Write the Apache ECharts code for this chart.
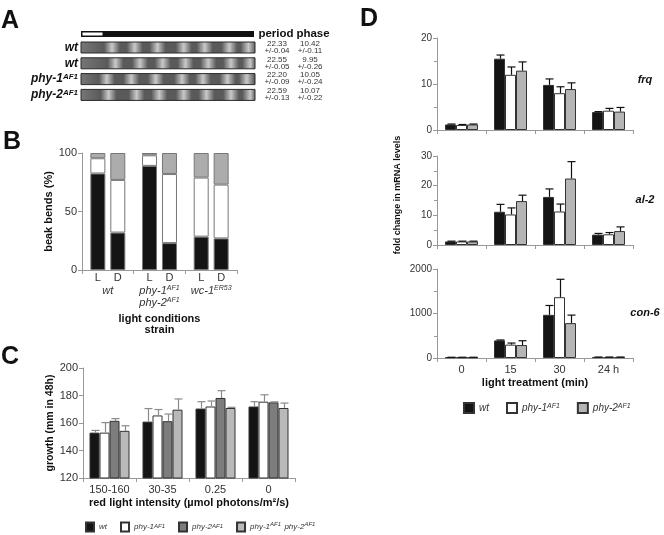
<!DOCTYPE html>
<html lang="en">
<head>
<meta charset="UTF-8">
<title>phy mutants - light responses</title>
<style>
    html, body { margin: 0; padding: 0; background: #fff; }
    #main { width: 664px; height: 535px; }
</style>
</head>
<body>
<div id="main"></div>
<script src="https://cdn.jsdelivr.net/npm/echarts@6/dist/echarts.min.js"></script>
<script>
// ---- panel A: race tubes ----
var tubeNames = ['wt', 'wt', 'phy-1', 'phy-2'];
var tubeSups = ['', '', 'AF1', 'AF1'];
var periods = ['22.33', '22.55', '22.20', '22.59'];
var periodErrs = ['+/-0.04', '+/-0.05', '+/-0.09', '+/-0.13'];
var phases = ['10.42', '9.95', '10.05', '10.07'];
var phaseErrs = ['+/-0.11', '+/-0.26', '+/-0.24', '+/-0.22'];
// conidiation bands, read as fraction of tube length
var tubeBands = [
    [0.18, 0.31, 0.44, 0.59, 0.71, 0.85, 0.96],
    [0.20, 0.34, 0.47, 0.60, 0.73, 0.86, 0.97],
    [0.15, 0.29, 0.43, 0.58, 0.70, 0.84, 0.95],
    [0.16, 0.32, 0.45, 0.59, 0.72, 0.86, 0.97]
];

// ---- panel B: beak bends (%) ----
var bStrains = ['{i|wt}', '{i|phy-1}{s|AF1}\n{i|phy-2}{s|AF1}', '{i|wc-1}{s|ER53}'];
var bBlackL = [82.5, 89, 28.5];
var bWhiteL = [13, 9, 50.5];
var bGrayL = [4.5, 2, 21];
var bBlackD = [32, 23, 27];
var bWhiteD = [45, 59, 46];
var bGrayD = [23, 18, 27];

// ---- panel C: growth (mm in 48h) ----
var cIntensity = ['150-160', '30-35', '0.25', '0'];
var cWt = [153, 161, 170.5, 172];
var cWtErr = [1.6, 9.5, 5, 3.5];
var cPhy1 = [153, 165.5, 172, 175.5];
var cPhy1Err = [7.3, 4.3, 4, 5];
var cPhy2 = [161.6, 161.3, 178.2, 175];
var cPhy2Err = [1.6, 5.2, 5.3, 0.4];
var cPhy12 = [154.3, 169.7, 170.9, 170.9];
var cPhy12Err = [3.7, 7.8, 0.5, 3.6];

// ---- panel D: fold change in mRNA levels ----
var dTimes = ['0', '15', '30', '24 h'];
var frqWt = [1.2, 15.5, 9.8, 3.9];
var frqWtErr = [0.1, 0.8, 1.3, 0.1];
var frqPhy1 = [1.1, 12, 8, 4.2];
var frqPhy1Err = [0.1, 1.7, 1.4, 0.5];
var frqPhy2 = [1.2, 12.9, 8.9, 4];
var frqPhy2Err = [0.1, 1.9, 1.35, 0.9];
var al2Wt = [1.2, 11.2, 16.2, 3.5];
var al2WtErr = [0.1, 2.5, 2.7, 0.4];
var al2Phy1 = [1.2, 10.3, 11.3, 3.6];
var al2Phy1Err = [0.1, 2.2, 2.5, 0.6];
var al2Phy2 = [1.2, 14.8, 22.4, 4.7];
var al2Phy2Err = [0.1, 2, 5.7, 1.4];
var con6Wt = [15, 395, 970, 20];
var con6WtErr = [2, 10, 210, 2];
var con6Phy1 = [15, 300, 1366, 20];
var con6Phy1Err = [2, 36, 403, 2];
var con6Phy2 = [15, 291, 784, 20];
var con6Phy2Err = [2, 97, 180, 2];
var geneNames = ['frq', 'al-2', 'con-6'];

var FONT = '"Liberation Sans", Arial, Helvetica, sans-serif';
var AXIS = '#999';
var LBL = '#333';

var chart = echarts.init(document.getElementById('main'), null, {renderer: 'canvas'});

function valueAxis(gi, min, max, step, minor) {
    return {
        type: 'value', gridIndex: gi, min: min, max: max, interval: step,
        splitLine: {show: false},
        axisLine: {show: true, lineStyle: {color: AXIS}},
        axisTick: {show: true, length: 4, lineStyle: {color: AXIS}},
        minorTick: {show: !!minor, splitNumber: 2, length: 3, lineStyle: {color: AXIS}},
        axisLabel: {color: LBL, fontSize: 11, margin: 5, formatter: function (v) { return String(v); }}
    };
}

function catAxis(gi, data, showLabel) {
    return {
        type: 'category', gridIndex: gi, data: data,
        axisLine: {show: true, lineStyle: {color: AXIS}},
        axisTick: {show: true, length: 4, lineStyle: {color: AXIS}},
        axisLabel: {show: showLabel, interval: 0, color: LBL, fontSize: 11, margin: 6}
    };
}

function bar(name, axis, data, color, width, stack) {
    var s = {
        name: name, type: 'bar', xAxisIndex: axis, yAxisIndex: axis, data: data,
        barWidth: width, barGap: 0,
        itemStyle: {color: color, borderColor: '#333', borderWidth: 1},
        emphasis: {disabled: true}
    };
    if (stack) s.stack = stack;
    return s;
}

// whiskers drawn on top of grouped bars
function errBar(axis, vals, errs, idx, n, bw, color, cap) {
    return {
        type: 'custom', xAxisIndex: axis, yAxisIndex: axis, z: 5, silent: true,
        encode: {x: 0, y: [1, 2]},
        data: vals.map(function (v, i) { return [i, v, v + errs[i]]; }),
        renderItem: function (params, api) {
            var lo = api.coord([api.value(0), api.value(1)]);
            var hi = api.coord([api.value(0), api.value(2)]);
            var x = Math.round(lo[0] + (idx - (n - 1) / 2) * bw) + 0.5;
            var ls = {stroke: color, lineWidth: 1.2};
            return {type: 'group', children: [
                {type: 'line', shape: {x1: x, y1: lo[1], x2: x, y2: hi[1]}, style: ls},
                {type: 'line', shape: {x1: x - cap, y1: hi[1], x2: x + cap, y2: hi[1]}, style: ls}
            ]};
        }
    };
}

var supRich = {
    i: {fontStyle: 'italic', fontSize: 11, color: LBL, fontFamily: FONT},
    s: {fontStyle: 'italic', fontSize: 7, color: LBL, verticalAlign: 'top', fontFamily: FONT}
};

// ---- graphic for panel A, letters, shared titles ----
var graphic = [];
['A', 'B', 'C', 'D'].forEach(function (t, i) {
    var pos = [[1, 21], [3, 142], [1, 357], [360, 19]][i];
    graphic.push({type: 'text', style: {text: t, x: pos[0], y: pos[1], verticalAlign: 'middle',
        font: 'bold 25px ' + FONT, fill: '#111'}});
});

graphic.push({type: 'rect', shape: {x: 81, y: 31, width: 173, height: 6}, style: {fill: '#111'}});
graphic.push({type: 'rect', shape: {x: 82.5, y: 32.5, width: 20, height: 3}, style: {fill: '#fff'}});
graphic.push({type: 'text', style: {text: 'period', x: 276, y: 34, align: 'center', verticalAlign: 'middle',
    font: 'bold 11.5px ' + FONT, fill: '#111'}});
graphic.push({type: 'text', style: {text: 'phase', x: 313, y: 34, align: 'center', verticalAlign: 'middle',
    font: 'bold 11.5px ' + FONT, fill: '#111'}});

tubeNames.forEach(function (n, i) {
    var top = 42 + i * 15.8;
    var mid = top + 5.5;
    var stops = [{offset: 0, color: '#777'}];
    tubeBands[i].forEach(function (p) {
        stops.push({offset: Math.max(0, p - 0.045), color: '#5a5a5a'});
        stops.push({offset: p, color: '#c9c9c9'});
        stops.push({offset: Math.min(1, p + 0.045), color: '#5a5a5a'});
    });
    graphic.push({type: 'rect', shape: {x: 81, y: top, width: 174, height: 11},
        style: {fill: new echarts.graphic.LinearGradient(0, 0, 1, 0, stops), stroke: '#2a2a2a', lineWidth: 1}});
    graphic.push({type: 'text', style: {
        text: '{n|' + n + '}' + (tubeSups[i] ? '{s|' + tubeSups[i] + '}' : ''),
        x: 78, y: mid, align: 'right', verticalAlign: 'middle',
        rich: {
            n: {fontStyle: 'italic', fontWeight: 'bold', fontSize: 12, fontFamily: FONT, fill: '#111'},
            s: {fontStyle: 'italic', fontWeight: 'bold', fontSize: 8, fontFamily: FONT, fill: '#111', verticalAlign: 'top'}
        }
    }});
    [[277, periods[i], periodErrs[i]], [310, phases[i], phaseErrs[i]]].forEach(function (c) {
        graphic.push({type: 'text', style: {text: c[1], x: c[0], y: mid - 4, align: 'center',
            verticalAlign: 'middle', font: '8px ' + FONT, fill: '#333'}});
        graphic.push({type: 'text', style: {text: c[2], x: c[0], y: mid + 3, align: 'center',
            verticalAlign: 'middle', font: '8px ' + FONT, fill: '#333'}});
    });
});

graphic.push({type: 'text', rotation: Math.PI / 2, x: 398, y: 195, style: {
    text: 'fold change in mRNA levels', align: 'center', verticalAlign: 'middle',
    font: 'bold 9px ' + FONT, fill: '#111'}});
[80, 200, 313].forEach(function (y, i) {
    graphic.push({type: 'text', style: {text: geneNames[i], x: 645, y: y, align: 'center',
        verticalAlign: 'middle', font: 'italic bold 11px ' + FONT, fill: '#111'}});
});

// ---- axes ----
var xAxes = [
    {
        type: 'category', gridIndex: 0, data: bStrains,
        axisLine: {show: true, lineStyle: {color: AXIS}},
        axisTick: {show: true, length: 4, lineStyle: {color: AXIS}},
        axisLabel: {interval: 0, margin: 15, lineHeight: 12, rich: supRich},
        name: 'light conditions\nstrain', nameLocation: 'middle', nameGap: 43,
        nameTextStyle: {fontWeight: 'bold', fontSize: 11, color: '#111', lineHeight: 11}
    },
    catAxis(1, cIntensity, true),
    catAxis(2, dTimes, false),
    catAxis(3, dTimes, false),
    catAxis(4, dTimes, true)
];
xAxes[1].name = 'red light intensity (\u00b5mol photons/m\u00b2/s)';
xAxes[1].nameLocation = 'middle';
xAxes[1].nameGap = 19;
xAxes[1].nameTextStyle = {fontWeight: 'bold', fontSize: 11, color: '#111'};
xAxes[4].name = 'light treatment (min)';
xAxes[4].nameLocation = 'middle';
xAxes[4].nameGap = 19;
xAxes[4].nameTextStyle = {fontWeight: 'bold', fontSize: 11, color: '#111'};

var yAxes = [
    valueAxis(0, 0, 100, 50, false),
    valueAxis(1, 120, 200, 20, false),
    valueAxis(2, 0, 20, 10, true),
    valueAxis(3, 0, 30, 10, true),
    valueAxis(4, 0, 2000, 1000, true)
];
yAxes[0].name = 'beak bends (%)';
yAxes[0].nameLocation = 'middle';
yAxes[0].nameGap = 17;
yAxes[0].nameTextStyle = {fontWeight: 'bold', fontSize: 11, color: '#111'};
yAxes[1].name = 'growth (mm in 48h)';
yAxes[1].nameLocation = 'middle';
yAxes[1].nameGap = 23;
yAxes[1].nameTextStyle = {fontWeight: 'bold', fontSize: 10.5, color: '#111'};
yAxes[2].axisLabel.fontSize = 10;
yAxes[3].axisLabel.fontSize = 10;
yAxes[4].axisLabel.fontSize = 10;

// ---- series ----
var series = [];
var bl = bar('bL0', 0, bBlackL, '#141414', 15, 'L');
bl.label = {show: true, position: 'bottom', distance: 2, formatter: 'L', color: LBL, fontSize: 11};
var bd = bar('bD0', 0, bBlackD, '#141414', 15, 'D');
bd.label = {show: true, position: 'bottom', distance: 2, formatter: 'D', color: LBL, fontSize: 11};
series.push(bl, bar('bL1', 0, bWhiteL, '#fff', 15, 'L'), bar('bL2', 0, bGrayL, '#acacac', 15, 'L'));
series.push(bd, bar('bD1', 0, bWhiteD, '#fff', 15, 'D'), bar('bD2', 0, bGrayD, '#acacac', 15, 'D'));
series.forEach(function (s) { s.barGap = '33%'; s.itemStyle.borderColor = '#777'; });

var cSets = [
    ['c_wt', cWt, cWtErr, '#141414'],
    ['c_p1', cPhy1, cPhy1Err, '#fff'],
    ['c_p2', cPhy2, cPhy2Err, '#7d7d7d'],
    ['c_p12', cPhy12, cPhy12Err, '#b9b9b9']
];
cSets.forEach(function (c, i) {
    series.push(bar(c[0], 1, c[1], c[3], 10));
    series.push(errBar(1, c[1], c[2], i, 4, 10, '#8a8a8a', 4));
});

var dColors = ['#141414', '#fff', '#b5b5b5'];
var dNames = ['d_wt', 'd_p1', 'd_p2'];
[
    [frqWt, frqPhy1, frqPhy2, frqWtErr, frqPhy1Err, frqPhy2Err],
    [al2Wt, al2Phy1, al2Phy2, al2WtErr, al2Phy1Err, al2Phy2Err],
    [con6Wt, con6Phy1, con6Phy2, con6WtErr, con6Phy1Err, con6Phy2Err]
].forEach(function (g, gi) {
    for (var k = 0; k < 3; k++) {
        series.push(bar(dNames[k], gi + 2, g[k], dColors[k], 11));
        series.push(errBar(gi + 2, g[k], g[k + 3], k, 3, 11, '#111', 4));
    }
});

var legendLabels = {
    c_wt: '{i|wt}',
    c_p1: '{i|phy-1}{s|AF1}',
    c_p2: '{i|phy-2}{s|AF1}',
    c_p12: '{i|phy-1}{s|AF1} {i|phy-2}{s|AF1}',
    d_wt: '{i|wt}',
    d_p1: '{i|phy-1}{s|AF1}',
    d_p2: '{i|phy-2}{s|AF1}'
};

var option = {
    animation: false,
    textStyle: {fontFamily: FONT},
    grid: [
        {left: 82, top: 153, width: 155, height: 117},
        {left: 83, top: 368, width: 212, height: 110},
        {left: 437, top: 38, width: 196, height: 92},
        {left: 437, top: 156, width: 196, height: 89},
        {left: 437, top: 269, width: 196, height: 89}
    ],
    xAxis: xAxes,
    yAxis: yAxes,
    legend: [
        {
            data: ['c_wt', 'c_p1', 'c_p2', 'c_p12'], left: 80, top: 516,
            icon: 'rect', itemWidth: 8, itemHeight: 9, itemGap: 13, selectedMode: false,
            formatter: function (n) { return legendLabels[n]; },
            textStyle: {rich: {
                i: {fontStyle: 'italic', fontSize: 8, color: '#333', fontFamily: FONT},
                s: {fontStyle: 'italic', fontSize: 6, color: '#333', verticalAlign: 'top', fontFamily: FONT}
            }}
        },
        {
            data: ['d_wt', 'd_p1', 'd_p2'], left: 458, top: 397,
            icon: 'rect', itemWidth: 10, itemHeight: 10, itemGap: 17, selectedMode: false,
            formatter: function (n) { return legendLabels[n]; },
            textStyle: {rich: {
                i: {fontStyle: 'italic', fontSize: 10, color: '#333', fontFamily: FONT},
                s: {fontStyle: 'italic', fontSize: 7, color: '#333', verticalAlign: 'top', fontFamily: FONT}
            }}
        }
    ],
    graphic: graphic,
    series: series
};

chart.setOption(option);
</script>
</body>
</html>
